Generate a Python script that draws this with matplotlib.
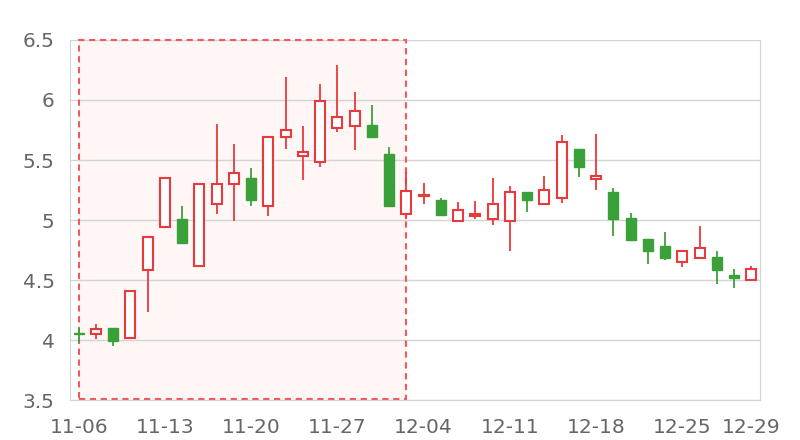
import matplotlib
matplotlib.use("Agg")
import matplotlib.pyplot as plt
from matplotlib.patches import Rectangle
import numpy as np

# daily k-line data (open, close, high, low)
dates = ['11-06', '11-07', '11-08', '11-09', '11-10',
         '11-13', '11-14', '11-15', '11-16', '11-17',
         '11-20', '11-21', '11-22', '11-23', '11-24',
         '11-27', '11-28', '11-29', '11-30', '12-01',
         '12-04', '12-05', '12-06', '12-07', '12-08',
         '12-11', '12-12', '12-13', '12-14', '12-15',
         '12-18', '12-19', '12-20', '12-21', '12-22',
         '12-25', '12-26', '12-27', '12-28', '12-29']
opens = [4.06, 4.05, 4.10, 4.02, 4.58, 4.94, 5.01, 4.62, 5.13, 5.30,
         5.35, 5.12, 5.69, 5.53, 5.48, 5.77, 5.78, 5.79, 5.55, 5.05,
         5.20, 5.17, 4.99, 5.03, 5.01, 4.99, 5.23, 5.13, 5.18, 5.59,
         5.34, 5.23, 5.02, 4.84, 4.78, 4.65, 4.68, 4.69, 4.54, 4.50]
closes = [4.05, 4.09, 3.99, 4.41, 4.86, 5.35, 4.81, 5.30, 5.30, 5.39,
          5.17, 5.69, 5.75, 5.57, 5.99, 5.86, 5.91, 5.69, 5.12, 5.24,
          5.21, 5.04, 5.08, 5.05, 5.13, 5.23, 5.17, 5.25, 5.65, 5.44,
          5.37, 5.01, 4.83, 4.74, 4.68, 4.74, 4.77, 4.58, 4.52, 4.59]
highs = [4.10, 4.13, 4.10, 4.41, 4.86, 5.35, 5.12, 5.30, 5.80, 5.63,
         5.43, 5.69, 6.19, 5.78, 6.13, 6.29, 6.07, 5.96, 5.61, 5.40,
         5.31, 5.18, 5.15, 5.16, 5.35, 5.28, 5.23, 5.37, 5.71, 5.59,
         5.72, 5.27, 5.06, 4.84, 4.90, 4.75, 4.95, 4.74, 4.59, 4.62]
lows = [3.98, 4.01, 3.95, 4.01, 4.23, 4.94, 4.81, 4.62, 5.05, 4.99,
        5.12, 5.03, 5.59, 5.33, 5.44, 5.73, 5.58, 5.69, 5.12, 5.01,
        5.13, 5.04, 4.99, 5.01, 4.96, 4.74, 5.07, 5.13, 5.14, 5.36,
        5.25, 4.87, 4.83, 4.63, 4.67, 4.61, 4.68, 4.47, 4.43, 4.49]

# highlighted window (index range)
mark_start = 0
mark_end = 19

tick_idx = [0, 5, 10, 15, 20, 25, 30, 35, 39]
y_ticks = [3.5, 4, 4.5, 5, 5.5, 6, 6.5]

up_color = '#e8393c'
down_color = '#3aa13a'
text_color = '#666666'
grid_color = '#d4d4d4'

fig = plt.figure(figsize=(8, 4.4), dpi=100)
ax = fig.add_axes([70 / 800, 40 / 440, 690 / 800, 360 / 440])

x = np.arange(len(dates))
opens = np.array(opens)
closes = np.array(closes)
up = closes >= opens

# highlight area: fill below the grid, dashed border above it
ax.add_patch(Rectangle((mark_start, 3.51), mark_end - mark_start, 2.99,
                       facecolor='#fff6f6', edgecolor='none', zorder=0.1))
ax.add_patch(Rectangle((mark_start, 3.51), mark_end - mark_start, 2.99,
                       facecolor='none', edgecolor='#f05a5c', lw=1.5,
                       linestyle=(0, (3, 2.2)), zorder=1, clip_on=False))

colors = [up_color if u else down_color for u in up]
ax.vlines(x, lows, highs, colors=colors, lw=1.3, zorder=2)

bottoms = np.minimum(opens, closes)
heights = np.maximum(np.abs(closes - opens), 0.004)
ax.bar(x[up], heights[up], bottom=bottoms[up], width=0.58,
       facecolor='white', edgecolor=up_color, lw=1.5, zorder=3)
ax.bar(x[~up], heights[~up], bottom=bottoms[~up], width=0.58,
       facecolor=down_color, edgecolor=down_color, lw=1.0, zorder=3)

ax.set_xlim(-0.5, len(dates) - 0.5)
ax.set_ylim(3.5, 6.5)
ax.set_yticks(y_ticks)
ax.set_yticklabels(['%g' % v for v in y_ticks])
ax.set_xticks(tick_idx)
ax.set_xticklabels([dates[i] for i in tick_idx])

ax.grid(axis='y', color=grid_color, lw=1, zorder=0.5)
ax.set_axisbelow(True)
for side in ['left', 'right', 'bottom']:
    ax.spines[side].set_color(grid_color)
ax.spines['top'].set_visible(False)
ax.tick_params(axis='both', length=0, labelsize=14.5, colors=text_color)
ax.tick_params(axis='y', pad=11)
ax.tick_params(axis='x', pad=13)

fig.savefig('out.png', dpi=100)
